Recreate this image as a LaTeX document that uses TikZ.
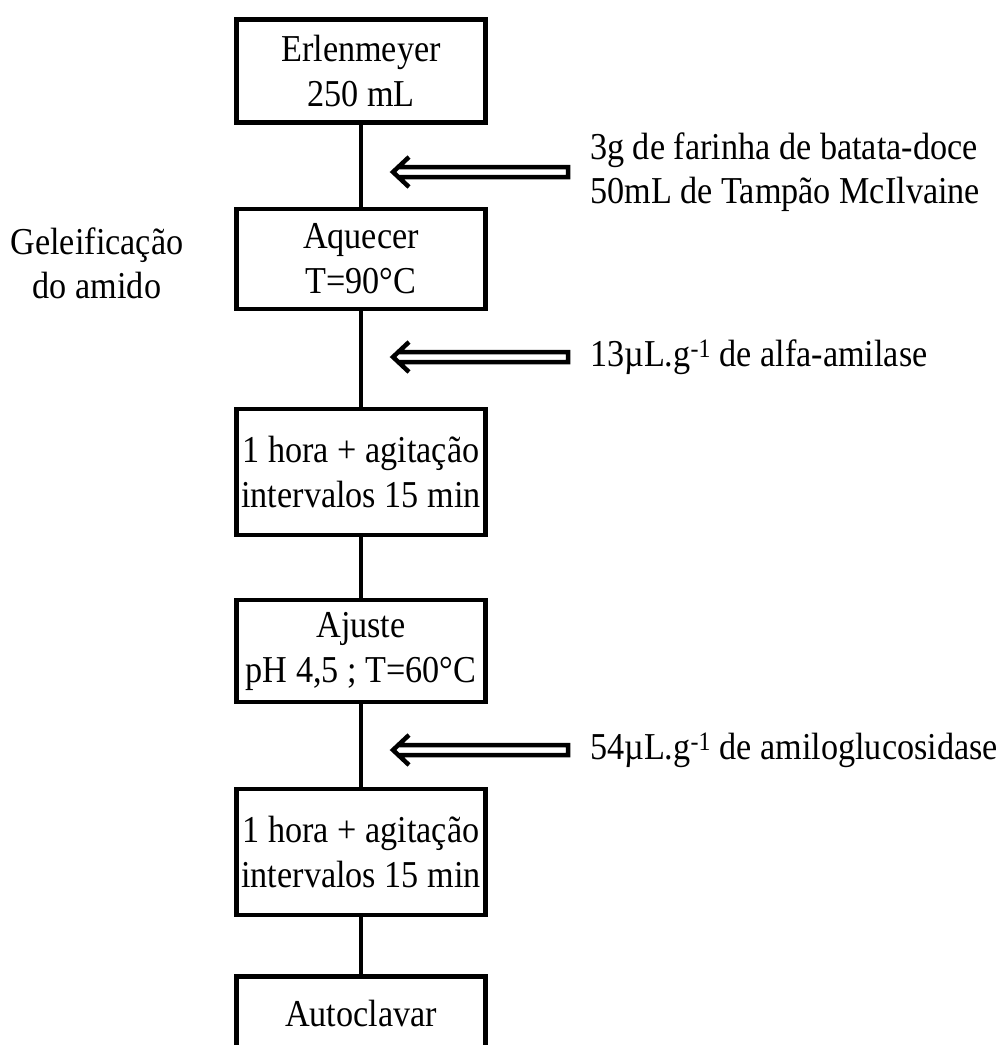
\documentclass[tikz,border=0pt]{standalone}
\usepackage{fontspec}
\setmainfont{Liberation Serif}[FakeStretch=0.9]
\usetikzlibrary{calc}

\begin{document}
\begin{tikzpicture}[x=1pt, y=-1pt,
	stage/.style={rectangle, draw=black, line width=4.5pt, minimum width=249pt,
		inner sep=2pt, align=center, font=\fontsize{38}{45}\selectfont},
	sidetext/.style={anchor=west, inner sep=0pt, align=left, font=\fontsize{38}{44}\selectfont},
	link/.style={line width=3.5pt},
	addarrow/.style={line width=4.5pt, line join=miter, to path={let \p1=(\tikztostart), \p2=(\tikztotarget) in
		(\x2+16pt,\y2+15pt) -- (\x2,\y2) -- (\x2+16pt,\y2-15pt)
		(\x2+6pt,\y2+5pt) -- (\x1,\y2+5pt) -- (\x1,\y2-5pt) -- (\x2+6pt,\y2-5pt)}}
	]
	\useasboundingbox[fill=white] (0,0) rectangle (997,1045);
	
	\node[stage, minimum height=103pt] (erlen) at (361,71) {Erlenmeyer\\250 mL};
	\node[stage, minimum height=100pt] (aquecer) at (361,259) {Aquecer\\T=90°C};
	\node[stage, minimum height=126pt] (hora1) at (361,472) {1 hora + agitação\\intervalos 15 min};
	\node[stage, minimum height=102pt] (ajuste) at (361,651) {Ajuste\\pH 4,5 ; T=60°C};
	\node[stage, minimum height=126pt] (hora2) at (361,852) {1 hora + agitação\\intervalos 15 min};
	\node[stage, minimum height=73pt] (autoclave) at (361,1013) {Autoclavar};
	
	\node[align=center, inner sep=0pt, font=\fontsize{38}{44}\selectfont] (gel) at (97,263) {Geleificação\\do amido};
	
	\node[sidetext] (farinha) at (590,172) {3g de farinha de batata-doce\\50mL de Tampão McIlvaine};
	\node[sidetext] (alfa) at (590,357) {13µL.g\textsuperscript{-1} de alfa-amilase};
	\node[sidetext] (amilo) at (590,750) {54µL.g\textsuperscript{-1} de amiloglucosidase};
	
	\coordinate (inA) at (393,172);
	\coordinate (inB) at (393,357);
	\coordinate (inC) at (393,750);
	
	\foreach \a/\b in {erlen/aquecer, aquecer/hora1, hora1/ajuste, ajuste/hora2, hora2/autoclave}
		\draw[link] (\a) -- (\b);
	
	\draw[addarrow] ([xshift=-22pt]farinha.west) to (inA);
	\draw[addarrow] ([xshift=-22pt]alfa.west) to (inB);
	\draw[addarrow] ([xshift=-22pt]amilo.west) to (inC);
\end{tikzpicture}
\end{document}
